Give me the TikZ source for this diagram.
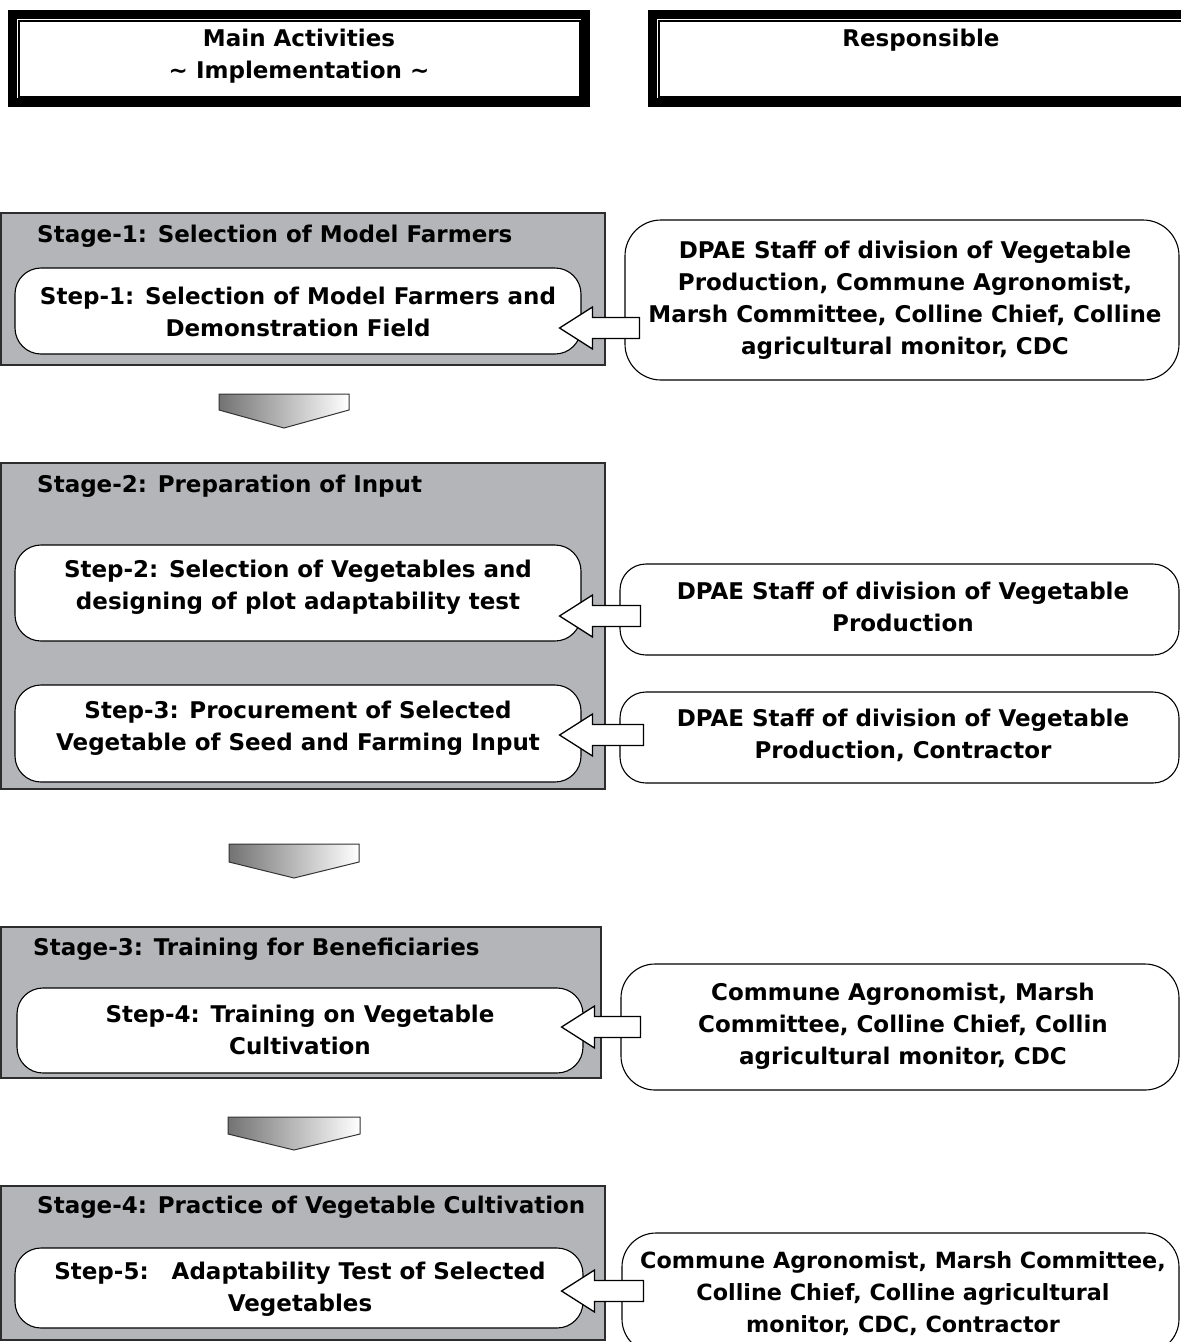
\documentclass[tikz,border=0pt]{standalone}
\usepackage{fontspec}
\setmainfont{DejaVu Sans}
\usetikzlibrary{calc}
\definecolor{stagegray}{RGB}{180,181,185}
\definecolor{edgegray}{RGB}{45,45,45}

% block arrow from a responsible box (#1) into a step box (#2) at height #3;
% #4 = how far the tail reaches into the responsible box
\newcommand\respArrow[4]{%
  \coordinate (ay) at (0,#3);
  \draw[blockarrow] ($(#2.east |- ay)+(-22,0)$) coordinate (atip)
    -- ++(33,-21) -- ++(0,10.5) -- ($(#1.west |- ay)+(#4,-10.5)$)
    -- ++(0,21) -- ($(atip)+(33,10.5)$) -- ++(0,10.5) -- cycle;}

\begin{document}
\begin{tikzpicture}[x=1pt,y=-1pt,
  every node/.style={font=\bfseries\fontsize{23}{32}\selectfont, inner sep=0pt, align=center},
  frame/.style={draw=black, line width=9pt, rectangle},
  innerframe/.style={draw=black, line width=2pt, rectangle},
  stagebox/.style={draw=edgegray, line width=2.4pt, fill=stagegray, rectangle},
  stepbox/.style={draw=black, line width=1.1pt, fill=white, rectangle, rounded corners=26pt},
  respbox/.style={draw=black, line width=1.1pt, fill=white, rectangle, rounded corners=26pt},
  downarrow/.style={draw=black!80, line width=1pt, left color=black!55, right color=white},
  blockarrow/.style={draw=black, line width=1.3pt, fill=white, line join=miter},
]
\useasboundingbox (0,0) rectangle (1181,1342);

% ---- column headers ----
\node[frame, minimum width=573, minimum height=88] (hdrL) at (299,58.5) {};
\node[innerframe, minimum width=561, minimum height=76] (hdrLi) at (299,58.5) {};
\node (hdrLt) at (299,56) {Main Activities\\\textasciitilde{} Implementation \textasciitilde{}};

\node[frame, minimum width=538, minimum height=88] (hdrR) at (921.5,58.5) {};
\node[innerframe, minimum width=526, minimum height=76] (hdrRi) at (921.5,58.5) {};
\node (hdrRt) at (921,40) {Responsible};

% ---- stage panels ----
\node[stagebox, minimum width=604, minimum height=152] (stage1) at (303,289) {};
\node[stagebox, minimum width=604, minimum height=326] (stage2) at (303,626) {};
\node[stagebox, minimum width=600, minimum height=151] (stage3) at (301,1002.5) {};
\node[stagebox, minimum width=604, minimum height=154] (stage4) at (303,1263) {};

\node[anchor=west] (stage1t) at (37,236) {Stage-1: Selection of Model Farmers};
\node[anchor=west] (stage2t) at (37,486) {Stage-2: Preparation of Input};
\node[anchor=west] (stage3t) at (33,949) {Stage-3: Training for Beneficiaries};
\node[anchor=west] (stage4t) at (37,1207) {Stage-4: Practice of Vegetable Cultivation};

% ---- step boxes ----
\node[stepbox, minimum width=566, minimum height=86] (step1) at (298,311) {};
\node (step1t) at (298,312) {Step-1: Selection of Model Farmers and\\Demonstration Field};

\node[stepbox, minimum width=566, minimum height=96] (step2) at (298,593) {};
\node (step2t) at (298,587) {Step-2: Selection of Vegetables and\\designing of plot adaptability test};

\node[stepbox, minimum width=566, minimum height=97] (step3) at (298,733.5) {};
\node (step3t) at (298,728) {Step-3: Procurement of Selected\\Vegetable of Seed and Farming Input};

\node[stepbox, minimum width=566, minimum height=85] (step4) at (300,1030.5) {};
\node (step4t) at (300,1030) {Step-4: Training on Vegetable\\Cultivation};

\node[stepbox, minimum width=568, minimum height=80] (step5) at (299,1288) {};
\node (step5t) at (300,1289.5) {Step-5:\quad Adaptability Test of Selected\\Vegetables};

% ---- responsible boxes ----
\node[respbox, rounded corners=36pt, minimum width=554, minimum height=160] (resp1) at (902,300) {};
\node (resp1t) at (905,300) {DPAE Staff of division of Vegetable\\Production, Commune Agronomist,\\Marsh Committee, Colline Chief, Colline\\agricultural monitor, CDC};

\node[respbox, minimum width=559, minimum height=91] (resp2) at (899.5,609.5) {};
\node (resp2t) at (903,607) {DPAE Staff of division of Vegetable\\Production};

\node[respbox, minimum width=559, minimum height=91] (resp3) at (899.5,737.5) {};
\node (resp3t) at (903,735) {DPAE Staff of division of Vegetable\\Production, Contractor};

\node[respbox, rounded corners=34pt, minimum width=558, minimum height=126] (resp4) at (900,1027) {};
\node (resp4t) at (903,1026) {Commune Agronomist, Marsh\\Committee, Colline Chief, Collin\\agricultural monitor, CDC};

\node[respbox, rounded corners=34pt, minimum width=557, minimum height=120] (resp5) at (900.5,1293) {};
\node[font=\bfseries\fontsize{22.3}{32}\selectfont] (resp5t) at (903,1294) {Commune Agronomist, Marsh Committee,\\Colline Chief, Colline agricultural\\monitor, CDC, Contractor};

% ---- arrows from responsible parties to steps ----
\respArrow{resp1}{step1}{328}{15}
\respArrow{resp2}{step2}{616}{21}
\respArrow{resp3}{step3}{735}{24}
\respArrow{resp4}{step4}{1027}{20}
\respArrow{resp5}{step5}{1291}{22}

% ---- stage-to-stage down arrows ----
\draw[downarrow] (219,394) -- (349,394) -- (349,410) -- (284,428) -- (219,410) -- cycle;
\draw[downarrow] (229,844) -- (359,844) -- (359,862) -- (294,878) -- (229,862) -- cycle;
\draw[downarrow] (228,1117) -- (360,1117) -- (360,1134) -- (294,1150) -- (228,1134) -- cycle;
\end{tikzpicture}
\end{document}
